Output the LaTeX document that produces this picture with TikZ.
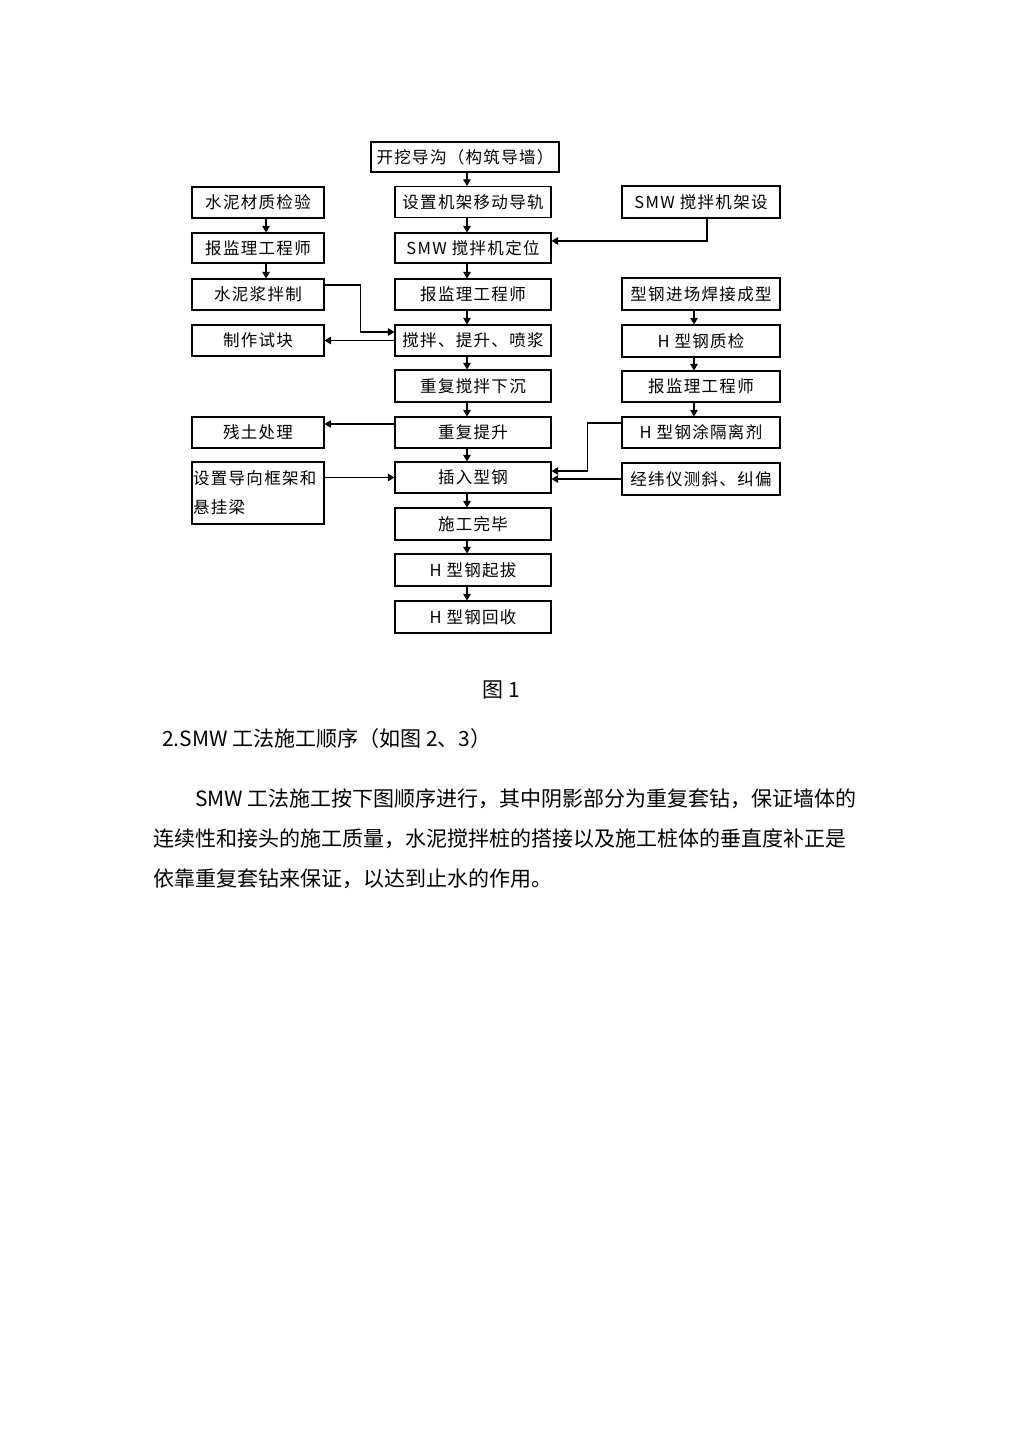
\documentclass[tikz,border=0pt]{standalone}
\usepackage{fontspec}
\setmainfont{Noto Sans CJK SC}
\newfontfamily\boxfont[LetterSpace=8]{Noto Sans CJK SC}
\usetikzlibrary{arrows.meta,calc}
\begin{document}
\begin{tikzpicture}[x=1pt,y=-1pt,
  box/.style={draw, line width=1.1pt, inner sep=0pt, minimum height=31pt,
    font=\boxfont\fontsize{16.5}{20}\selectfont},
  cbox/.style={box, minimum width=156pt},
  lbox/.style={box, minimum width=132pt},
  rbox/.style={box, minimum width=158pt},
  arr/.style={line width=1.1pt, -{Triangle[length=6.5pt,width=7.5pt]}},
  body/.style={inner sep=0pt, font=\fontsize{21}{24}\selectfont}]
\useasboundingbox (0,0) rectangle (1012,1431);
% centre column
\node[box, minimum width=188pt, minimum height=30pt] (top) at (465,157) {开挖导沟（构筑导墙）};
\node[cbox] (c1) at (473,202) {设置机架移动导轨};
\node[cbox, minimum height=30pt] (c2) at (473,248) {SMW 搅拌机定位};
\node[cbox] (c3) at (473,294.5) {报监理工程师};
\node[cbox] (c4) at (473,340.5) {搅拌、提升、喷浆};
\node[cbox, minimum height=32pt] (c5) at (473,386) {重复搅拌下沉};
\node[cbox] (c6) at (473,432.5) {重复提升};
\node[cbox] (c7) at (473,477.5) {插入型钢};
\node[cbox, minimum height=32pt] (c8) at (473,524) {施工完毕};
\node[cbox, minimum height=32pt] (c9) at (473,570) {H 型钢起拔};
\node[cbox, minimum height=32pt] (c10) at (473,617) {H 型钢回收};
% left column
\node[lbox] (l1) at (258,202.5) {水泥材质检验};
\node[lbox, minimum height=30pt] (l2) at (258,248) {报监理工程师};
\node[lbox] (l3) at (258,294.5) {水泥浆拌制};
\node[lbox] (l4) at (258,340.5) {制作试块};
\node[lbox] (l5) at (258,432.5) {残土处理};
\node[draw, line width=1.1pt, inner xsep=1pt, inner ysep=0pt, text width=130pt, minimum height=62pt,
  align=left, font=\boxfont\fontsize{16.5}{29}\selectfont] (l6) at (258,493) {设置导向框架和\\悬挂梁};
% right column
\node[rbox, minimum height=32pt] (r1) at (701,202) {SMW 搅拌机架设};
\node[rbox, minimum height=32pt] (r2) at (701,294) {型钢进场焊接成型};
\node[rbox, minimum height=32pt] (r3) at (701,341) {H 型钢质检};
\node[rbox] (r4) at (701,386.5) {报监理工程师};
\node[rbox] (r5) at (701,432.5) {H 型钢涂隔离剂};
\node[rbox, minimum height=32pt] (r6) at (701,479) {经纬仪测斜、纠偏};
% column axes for vertical arrows
\coordinate (cx) at (467,0);
\coordinate (lx) at (266,0);
\coordinate (rx) at (694,0);
% vertical arrows
\foreach \a/\b in {top/c1,c1/c2,c2/c3,c3/c4,c4/c5,c5/c6,c6/c7,c7/c8,c8/c9,c9/c10}
  \draw[arr] (\a.south -| cx) -- (\b.north -| cx);
\foreach \a/\b in {l1/l2,l2/l3}
  \draw[arr] (\a.south -| lx) -- (\b.north -| lx);
\foreach \a/\b in {r2/r3,r3/r4,r4/r5}
  \draw[arr] (\a.south -| rx) -- (\b.north -| rx);
% side connectors
\draw[arr] ([xshift=6pt]r1.south) |- ([yshift=7pt]c2.east);
\draw[arr] ([yshift=9.5pt]l3.east) -- ++(36,0) |- ([yshift=8.5pt]c4.west);
\draw[arr] (c4.west) -- (l4.east);
\draw[arr] ([yshift=8.5pt]c6.west) -- ([yshift=8.5pt]c6.west -| l5.east);
\draw[arr] (c7.west -| l6.east) -- (c7.west);
\draw[arr] ([yshift=9.5pt]r5.west) -- ++(-34,0) |- ([yshift=6.5pt]c7.east);
\draw[arr] (r6.west) -- (r6.west -| c7.east);
% text below
\node[body] (fig) at (501,690) {图 1};
\node[body, anchor=west] (h2) at (162,739) {2.SMW 工法施工顺序（如图 2、3）};
\node[body, anchor=west] (p1) at (195,799) {SMW 工法施工按下图顺序进行，其中阴影部分为重复套钻，保证墙体的};
\node[body, anchor=west] (p2) at (153,839) {连续性和接头的施工质量，水泥搅拌桩的搭接以及施工桩体的垂直度补正是};
\node[body, anchor=west] (p3) at (153,879) {依靠重复套钻来保证，以达到止水的作用。};
\end{tikzpicture}
\end{document}
